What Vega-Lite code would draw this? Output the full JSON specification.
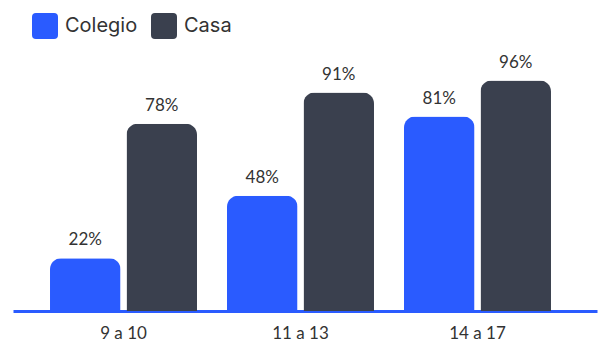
{
  "$schema": "https://vega.github.io/schema/vega-lite/v6.json",
  "width": 584,
  "height": 240,
  "autosize": {"type": "none"},
  "padding": {"left": 13, "top": 71, "right": 4, "bottom": 33},
  "background": "white",
  "config": {"view": {"stroke": null}},
  "data": {
    "values": [
      {"edad": "9 a 10", "lugar": "Colegio", "valor": 0.22},
      {"edad": "9 a 10", "lugar": "Casa", "valor": 0.78},
      {"edad": "11 a 13", "lugar": "Colegio", "valor": 0.48},
      {"edad": "11 a 13", "lugar": "Casa", "valor": 0.91},
      {"edad": "14 a 17", "lugar": "Colegio", "valor": 0.81},
      {"edad": "14 a 17", "lugar": "Casa", "valor": 0.96}
    ]
  },
  "encoding": {
    "x": {
      "field": "edad",
      "type": "nominal",
      "sort": ["9 a 10", "11 a 13", "14 a 17"],
      "scale": {"paddingInner": 0.1695, "paddingOuter": 0.2345, "align": 0.4458},
      "axis": {
        "title": null,
        "labelAngle": 0,
        "ticks": false,
        "domainColor": "#2a5bff",
        "domainWidth": 3,
        "labelFont": "Lato",
        "labelFontSize": 17,
        "labelColor": "#333333",
        "labelPadding": 14
      }
    },
    "xOffset": {
      "field": "lugar",
      "type": "nominal",
      "sort": ["Colegio", "Casa"],
      "scale": {"paddingInner": 0.078}
    },
    "y": {
      "field": "valor",
      "type": "quantitative",
      "scale": {"domain": [0, 1]},
      "axis": null
    }
  },
  "layer": [
    {
      "mark": {"type": "bar", "cornerRadiusTopLeft": 11, "cornerRadiusTopRight": 11},
      "encoding": {
        "color": {
          "field": "lugar",
          "type": "nominal",
          "sort": ["Colegio", "Casa"],
          "scale": {"domain": ["Colegio", "Casa"], "range": ["#2a5bff", "#3a404e"]},
          "legend": {
            "title": null,
            "orient": "none",
            "direction": "horizontal",
            "legendX": 19,
            "legendY": -58,
            "symbolType": "M-0.7,-1 H0.7 Q1,-1 1,-0.7 V0.7 Q1,1 0.7,1 H-0.7 Q-1,1 -1,0.7 V-0.7 Q-1,-1 -0.7,-1 Z",
            "symbolSize": 676,
            "symbolStrokeWidth": 0,
            "symbolOpacity": 1,
            "labelFont": "Inter",
            "labelFontSize": 20,
            "labelColor": "#333333",
            "labelOffset": 7,
            "columnPadding": 13,
            "padding": 0
          }
        }
      }
    },
    {
      "mark": {"type": "text", "baseline": "bottom", "dy": -9, "font": "Lato", "fontSize": 17, "color": "#333333"},
      "encoding": {
        "text": {"field": "valor", "type": "quantitative", "format": ".0%"},
        "detail": {"field": "lugar"}
      }
    }
  ]
}
